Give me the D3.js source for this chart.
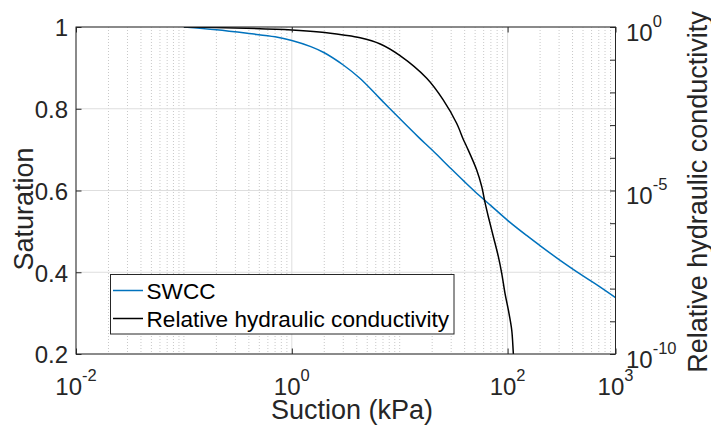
<!DOCTYPE html>
<html>
<head>
<meta charset="utf-8">
<script src="https://cdn.jsdelivr.net/npm/d3@7"></script>
<style>
  html, body { margin: 0; padding: 0; background: #fff; }
  svg { display: block; font-family: "Liberation Sans", Arial, Helvetica, sans-serif; }
</style>
</head>
<body>
<svg id="chart" width="711" height="427"></svg>
<script>
// ---- data ----
const swccSuction = [0.1, 0.2, 0.4, 0.7, 1, 1.5, 2, 3, 4.3, 6.5, 10, 15, 20, 30, 40, 50, 70, 100, 150, 200, 300, 500, 700, 1000];
const swccSaturation = [1.0, 0.993, 0.984, 0.976, 0.967, 0.952, 0.937, 0.907, 0.874, 0.826, 0.776, 0.730, 0.699, 0.653, 0.621, 0.597, 0.563, 0.527, 0.490, 0.465, 0.431, 0.391, 0.366, 0.338];

const krSuction = [0.1, 0.3, 1, 1.8, 3, 4.3, 6.6, 10, 17.8, 25.3, 33.7, 38.8, 41.8, 51.7, 57.6, 61.8, 66.3, 73.8, 82.1, 88.2, 94.6, 101.6, 109.2, 113, 116];
const krValue = [1, 0.933, 0.809, 0.703, 0.569, 0.468, 0.302, 0.135, 0.027, 5.9e-3, 1.14e-3, 3.7e-4, 2.18e-4, 4.24e-5, 1.31e-5, 4.24e-6, 1.58e-6, 3.86e-7, 9.46e-8, 2.94e-8, 7.18e-9, 2.22e-9, 5.42e-10, 1.05e-10, 3.2e-11];

const xTickExponents = [-2, 0, 2, 3];
const leftTicks = [0.2, 0.4, 0.6, 0.8, 1];
const leftTickLabels = ["0.2", "0.4", "0.6", "0.8", "1"];
const rightTickExponents = [0, -5, -10];
const rightMinorExponents = [0, -1, -2, -3, -4, -5, -6, -7, -8, -9, -10];
const seriesNames = ["SWCC", "Relative hydraulic conductivity"];
const seriesColors = ["#0072BD", "#000000"];

// ---- layout ----
const L = 76, R = 615.5, T = 27, B = 354;
const axisColor = "#262626";
const svg = d3.select("#chart");

const x = d3.scaleLog().domain([1e-2, 1e3]).range([L, R]);
const yL = d3.scaleLinear().domain([0.2, 1]).range([B, T]);
const yR = d3.scaleLog().domain([1e-10, 1]).range([B, T]);

// ---- grid ----
const minorX = [];
for (let e = -2; e < 3; e++) {
  for (let k = 1; k <= 9; k++) {
    const v = k * Math.pow(10, e);
    if (!xTickExponents.some(t => Math.abs(Math.log10(v) - t) < 1e-9)) minorX.push(v);
  }
}
const grid = svg.append("g");
grid.selectAll("line.minor").data(minorX).enter().append("line")
  .attr("x1", d => x(d)).attr("x2", d => x(d)).attr("y1", T).attr("y2", B)
  .attr("stroke", "#c8c8c8").attr("stroke-width", 1).attr("stroke-dasharray", "1,2");
grid.selectAll("line.majx").data(xTickExponents.map(e => Math.pow(10, e))).enter().append("line")
  .attr("x1", d => x(d)).attr("x2", d => x(d)).attr("y1", T).attr("y2", B)
  .attr("stroke", "#dedede").attr("stroke-width", 1);
grid.selectAll("line.majy").data(leftTicks).enter().append("line")
  .attr("x1", L).attr("x2", R).attr("y1", d => yL(d)).attr("y2", d => yL(d))
  .attr("stroke", "#dedede").attr("stroke-width", 1);

// ---- clip ----
svg.append("clipPath").attr("id", "clip").append("rect")
  .attr("x", L).attr("y", T).attr("width", R - L).attr("height", B - T);

// ---- curves ----
const swcc = swccSuction.map((s, i) => ({ s, v: swccSaturation[i] }));
const kr = krSuction.map((s, i) => ({ s, v: krValue[i] }));
const lineL = d3.line().x(d => x(d.s)).y(d => yL(d.v)).curve(d3.curveCatmullRom.alpha(0.5));
const lineR = d3.line().x(d => x(d.s)).y(d => yR(d.v)).curve(d3.curveCatmullRom.alpha(0.5));
const curves = svg.append("g").attr("clip-path", "url(#clip)");
curves.append("path").datum(swcc).attr("d", lineL)
  .attr("fill", "none").attr("stroke", seriesColors[0]).attr("stroke-width", 1.5);
curves.append("path").datum(kr).attr("d", lineR)
  .attr("fill", "none").attr("stroke", seriesColors[1]).attr("stroke-width", 1.5);

// ---- axes (ticks inward) ----
const tl = 5.5;
const xTickVals = xTickExponents.map(e => Math.pow(10, e));
function styleAxis(g) {
  g.selectAll(".domain").remove();
  g.selectAll(".tick line").attr("stroke", axisColor);
  g.selectAll(".tick text").remove();
}
svg.append("g").attr("transform", `translate(0,${B})`)
  .call(d3.axisBottom(x).tickValues(xTickVals).tickSize(-tl).tickFormat("")).call(styleAxis);
svg.append("g").attr("transform", `translate(0,${T})`)
  .call(d3.axisTop(x).tickValues(xTickVals).tickSize(-tl).tickFormat("")).call(styleAxis);
svg.append("g").attr("transform", `translate(${L},0)`)
  .call(d3.axisLeft(yL).tickValues(leftTicks).tickSize(-tl).tickFormat("")).call(styleAxis);
svg.append("g").attr("transform", `translate(${R},0)`)
  .call(d3.axisRight(yR).tickValues(rightMinorExponents.map(e => Math.pow(10, e))).tickSize(-tl).tickFormat("")).call(styleAxis);

// box
svg.append("rect").attr("x", L).attr("y", T).attr("width", R - L).attr("height", B - T)
  .attr("fill", "none").attr("stroke", axisColor).attr("stroke-width", 1);

// ---- tick labels ----
const tickFont = 24, supFont = 16.5, supRise = 14;
function powLabel(sel, e) {
  sel.append("tspan").text("10");
  sel.append("tspan").attr("font-size", supFont).attr("dy", -supRise).text(String(e));
}
xTickExponents.forEach(e => {
  const t = svg.append("text").attr("x", x(Math.pow(10, e))).attr("y", 395)
    .attr("text-anchor", "middle").attr("font-size", tickFont).attr("fill", axisColor);
  powLabel(t, e);
});
leftTicks.forEach((v, i) => {
  svg.append("text").attr("x", 68).attr("y", yL(v) + 9.3)
    .attr("text-anchor", "end").attr("font-size", tickFont).attr("fill", axisColor)
    .text(leftTickLabels[i]);
});
rightTickExponents.forEach(e => {
  const t = svg.append("text").attr("x", 626).attr("y", yR(Math.pow(10, e)) + 13.5)
    .attr("text-anchor", "start").attr("font-size", tickFont).attr("fill", axisColor);
  powLabel(t, e);
});

// ---- axis labels ----
svg.append("text").attr("x", 352).attr("y", 419).attr("text-anchor", "middle")
  .attr("font-size", 27).attr("fill", axisColor).text("Suction (kPa)");
svg.append("text").attr("transform", "translate(33,209) rotate(-90)").attr("text-anchor", "middle")
  .attr("font-size", 27).attr("fill", axisColor).text("Saturation");
svg.append("text").attr("transform", "translate(706.5,192) rotate(-90)").attr("text-anchor", "middle")
  .attr("font-size", 27).attr("fill", axisColor).text("Relative hydraulic conductivity");

// ---- legend ----
const lg = svg.append("g");
lg.append("rect").attr("x", 110.5).attr("y", 274.5).attr("width", 343.5).attr("height", 59.5)
  .attr("fill", "#fff").attr("stroke", axisColor).attr("stroke-width", 1);
const legendY = [290.5, 318.5];
seriesNames.forEach((n, i) => {
  lg.append("line").attr("x1", 113).attr("x2", 143).attr("y1", legendY[i]).attr("y2", legendY[i])
    .attr("stroke", seriesColors[i]).attr("stroke-width", 1.5);
  lg.append("text").attr("x", 146.5).attr("y", legendY[i] + 8).attr("font-size", 22.6)
    .attr("fill", "#000").text(n);
});
</script>
</body>
</html>
